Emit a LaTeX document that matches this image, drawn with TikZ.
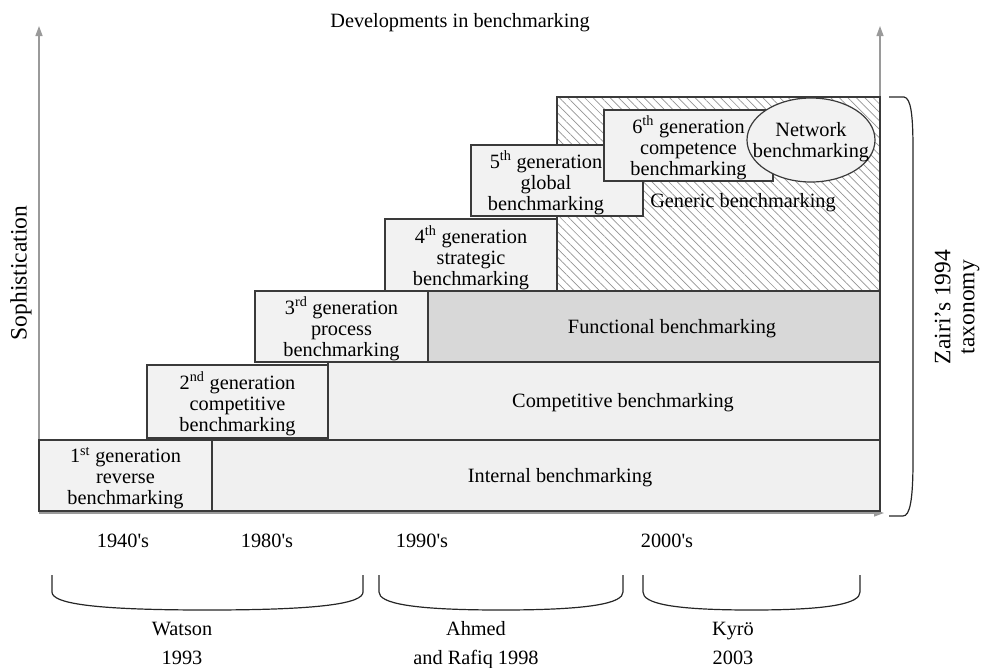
\documentclass[tikz,border=0pt]{standalone}
\usepackage{fontspec}
\setmainfont{Liberation Serif}
\usetikzlibrary{patterns.meta,arrows.meta}
\definecolor{boxfill}{HTML}{F2F2F2}
\definecolor{bandfill}{HTML}{F0F0F0}
\definecolor{funcfill}{HTML}{D8D8D8}
\definecolor{edgec}{HTML}{3A3A3A}
\definecolor{axisgray}{HTML}{9A9A9A}
\definecolor{hatchc}{HTML}{959595}
\begin{document}
\begin{tikzpicture}[x=1pt,y=-1pt,
  txt/.style={font=\fontsize{20.3}{21}\selectfont, align=center, inner sep=0pt, text=black},
  basetxt/.style={txt, anchor=base},
  rottxt/.style={font=\fontsize{23.5}{24}\selectfont, align=center, inner sep=0pt, text=black, rotate=90},
  genbox/.style={draw=edgec, fill=boxfill, line width=1.2pt, inner sep=0pt},
  band/.style={draw=edgec, line width=1.2pt},
  axisline/.style={draw=axisgray, line width=1.3pt, -{Triangle[length=10pt,width=7pt]}},
  bracel/.style={draw=black!85, line width=1.2pt}]
\useasboundingbox (0,0) rectangle (982,667);

% axes
\coordinate (o) at (39,512);
\coordinate (ytop) at (39,26);
\coordinate (r0) at (880,512);
\coordinate (rtop) at (880,26);
\coordinate (xs) at (39,513);
\coordinate (xend) at (884,513);
\draw[axisline] (o) -- (ytop);
\draw[axisline] (r0) -- (rtop);
\draw[axisline] (xs) -- (xend);

% bands
\path[band, fill=bandfill] (39,440) rectangle (880,511);
\path[band, fill=bandfill] (328,362) rectangle (880,440);
\path[band, fill=funcfill] (428,291) rectangle (880,362);
\fill[white] (557,97) rectangle (880,291);
\fill[pattern={Lines[angle=-45,distance=6pt,line width=0.7pt]}, pattern color=hatchc] (557,97) rectangle (880,291);
\draw[band] (557,97) rectangle (880,291);

% band labels
\node[txt] (lint) at (560,477.5) {Internal benchmarking};
\node[txt] (lcomp) at (623,402.5) {Competitive benchmarking};
\node[txt] (lfunc) at (672,328.5) {Functional benchmarking};
\node[txt] (lgen) at (743,203) {Generic benchmarking};

% generation boxes
\node[genbox, minimum width=173pt, minimum height=71pt] (g1) at (125.5,475.5) {};
\node[txt] (g1t) at (125.5,478) {1\textsuperscript{st} generation\\reverse\\benchmarking};
\node[genbox, minimum width=181pt, minimum height=73pt] (g2) at (237.5,401.5) {};
\node[txt] (g2t) at (237.5,404) {2\textsuperscript{nd} generation\\competitive\\benchmarking};
\node[genbox, minimum width=173pt, minimum height=71pt] (g3) at (341.5,326.5) {};
\node[txt] (g3t) at (341.5,329) {3\textsuperscript{rd} generation\\process\\benchmarking};
\node[genbox, minimum width=172pt, minimum height=72pt] (g4) at (471,255) {};
\node[txt] (g4t) at (471,257.5) {4\textsuperscript{th} generation\\strategic\\benchmarking};
\node[genbox, minimum width=172pt, minimum height=71pt] (g5) at (557,180.5) {};
\node[txt] (g5t) at (546,183) {5\textsuperscript{th} generation\\global\\benchmarking};
\node[genbox, minimum width=169pt, minimum height=71pt] (g6) at (688.5,145.5) {};
\node[txt] (g6t) at (688.5,148) {6\textsuperscript{th} generation\\competence\\benchmarking};

% network ellipse
\path[draw=edgec, fill=boxfill, line width=1.2pt] (811,140) ellipse [x radius=64, y radius=42];
\node[txt] (lnet) at (811,142) {Network\\benchmarking};

% titles
\node[txt] (title) at (460,23) {Developments in benchmarking};
\node[rottxt] (soph) at (21,273) {Sophistication};
\node[rottxt] (zairi) at (957,307) {Zairi's 1994\\taxonomy};

% right brace
\draw[bracel] (889,97) -- (904,97) .. controls (911,98) and (913,115) .. (913,150)
  -- (913,460) .. controls (913,500) and (910,516) .. (903,516) -- (889,516);

% years
\node[basetxt] (y1) at (123,547) {1940\textquotesingle s};
\node[basetxt] (y2) at (267,547) {1980\textquotesingle s};
\node[basetxt] (y3) at (422,547) {1990\textquotesingle s};
\node[basetxt] (y4) at (667,547) {2000\textquotesingle s};

% bottom braces
\draw[bracel] (52,575) -- (52,592) .. controls (52,603) and (90,610) .. (207,610)
  .. controls (324,610) and (363,603) .. (363,592) -- (363,575);
\draw[bracel] (379,575) -- (379,592) .. controls (379,603) and (410,610) .. (501,610)
  .. controls (592,610) and (623,603) .. (623,592) -- (623,575);
\draw[bracel] (643,575) -- (643,592) .. controls (643,603) and (670,610) .. (751.5,610)
  .. controls (833,610) and (860,603) .. (860,592) -- (860,575);

% authors
\node[basetxt] (wat) at (182,635) {Watson};
\node[basetxt] (wat2) at (182,664) {1993};
\node[basetxt] (ahm) at (476,635) {Ahmed};
\node[basetxt] (ahm2) at (476,664) {and Rafiq 1998};
\node[basetxt] (kyr) at (733,635) {Kyrö};
\node[basetxt] (kyr2) at (733,664) {2003};
\end{tikzpicture}
\end{document}
